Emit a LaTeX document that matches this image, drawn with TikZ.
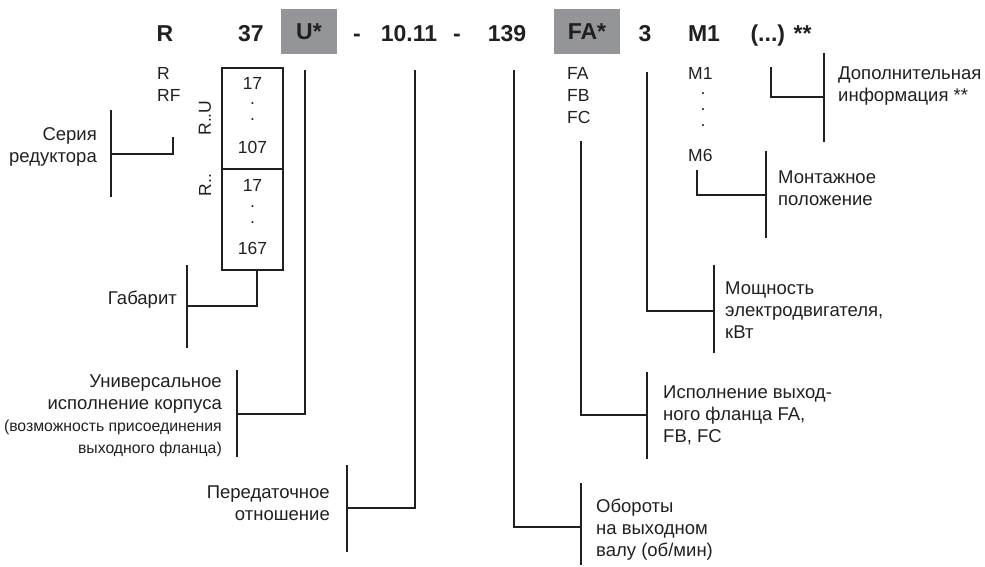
\documentclass[tikz,border=0pt]{standalone}
\usepackage{fontspec}
\setmainfont{Liberation Sans}
\definecolor{ink}{RGB}{35,31,32}
\definecolor{boxgray}{RGB}{147,149,152}
\begin{document}
\begin{tikzpicture}[x=1pt,y=-1pt,
  ln/.style={line width=2.4pt, draw=ink},
  thin/.style={line width=2pt, draw=ink},
  code/.style={font=\bfseries\fontsize{23}{27}\selectfont, text=ink, inner sep=0pt, anchor=base},
  graybox/.style={fill=boxgray, font=\bfseries\fontsize{23}{27}\selectfont, text=ink, inner sep=0pt},
  lbl/.style={font=\fontsize{17.5}{22}\selectfont, text=ink, inner sep=0pt},
  desc/.style={font=\fontsize{18.5}{22}\selectfont, text=ink, inner sep=0pt},
  lblr/.style={desc, anchor=east, align=right},
  lbll/.style={desc, anchor=west, align=left},
  small/.style={lbl, anchor=west},
  dots/.style={font=\fontsize{17.5}{16}\selectfont, text=ink, inner sep=0pt, align=center}
]
\useasboundingbox (0,0) rectangle (985,566);

% top code row
\node[code] (cR) at (165,41) {R};
\node[code] (c37) at (251,41) {37};
\node[graybox, minimum width=56pt, minimum height=45pt] (cU) at (309,31.5) {U*};
\node[code] (d1) at (357,41) {-};
\node[code] (c1011) at (409,41) {10.11};
\node[code] (d2) at (457,41) {-};
\node[code] (c139) at (507,41) {139};
\node[graybox, minimum width=66pt, minimum height=45pt] (cFA) at (587,31.5) {FA*};
\node[code] (c3) at (645,41) {3};
\node[code] (cM1) at (704,41) {M1};
\node[code] (cX) at (781,41) {(...) **};

% small option labels
\node[small] (oR) at (157,73) {R};
\node[small] (oRF) at (157,95) {RF};
\node[small] (oFA) at (567,73) {FA};
\node[small] (oFB) at (567,95) {FB};
\node[small] (oFC) at (567,117) {FC};
\node[small] (oM1) at (688,73) {M1};
\node[dots] (mdots) at (703,110) {.\\.\\.};
\node[small] (oM6) at (688,155) {M6};

% size box
\node[thin, draw, minimum width=61pt, minimum height=101pt, inner sep=0pt] (boxA) at (252.5,118.5) {};
\node[thin, draw, minimum width=61pt, minimum height=101pt, inner sep=0pt] (boxB) at (252.5,219.5) {};
\node[lbl] (a17) at (252.5,83) {17};
\node[dots] (adots) at (252.5,112) {.\\.};
\node[lbl] (a107) at (252.5,147) {107};
\node[lbl] (b17) at (252.5,185) {17};
\node[dots] (bdots) at (252.5,215) {.\\.};
\node[lbl] (b167) at (252.5,248) {167};
\node[lbl, rotate=90] (rU) at (205,118) {R..U};
\node[lbl, rotate=90] (rR) at (205,185) {R..};

% description labels
\node[lblr] (tSer) at (97,147) {Серия\\редуктора};
\node[lblr] (tGab) at (177,300) {Габарит};
\node[lblr] (tUni) at (222,415.5) {Универсальное\\исполнение корпуса\\{\fontsize{15.8}{22}\selectfont (возможность присоединения}\\{\fontsize{15.8}{22}\selectfont выходного фланца)}};
\node[lblr] (tPer) at (330,503.5) {Передаточное\\отношение};
\node[lbll] (tObo) at (596,530) {Обороты\\на выходном\\валу (об/мин)};
\node[lbll] (tIsp) at (663,415) {Исполнение выход-\\ного фланца FA,\\FB, FC};
\node[lbll] (tMos) at (725,310) {Мощность\\электродвигателя,\\кВт};
\node[lbll] (tMon) at (778,188) {Монтажное\\положение};
\node[lbll] (tDop) at (838,86) {Дополнительная\\информация **};

% bracket bars
\coordinate (bSerT) at (111,110); \coordinate (bSerB) at (111,197); \coordinate (bSer) at (111,154);
\coordinate (bGabT) at (187,265); \coordinate (bGabB) at (187,348); \coordinate (bGab) at (187,306);
\coordinate (bUniT) at (237,370); \coordinate (bUniB) at (237,457); \coordinate (bUni) at (237,414);
\coordinate (bPerT) at (347,465); \coordinate (bPerB) at (347,552); \coordinate (bPer) at (347,508);
\coordinate (bOboT) at (581,483); \coordinate (bOboB) at (581,565); \coordinate (bObo) at (581,527);
\coordinate (bIspT) at (647,372); \coordinate (bIspB) at (647,459); \coordinate (bIsp) at (647,415);
\coordinate (bMosT) at (714,265); \coordinate (bMosB) at (714,353); \coordinate (bMos) at (714,311);
\coordinate (bMonT) at (766,151); \coordinate (bMonB) at (766,238); \coordinate (bMon) at (766,195);
\coordinate (bDopT) at (824,53);  \coordinate (bDopB) at (824,142); \coordinate (bDop) at (824,97);
\foreach \b in {Ser,Gab,Uni,Per,Obo,Isp,Mos,Mon,Dop}{\draw[ln] (b\b T) -- (b\b B);}

% connector starts
\coordinate (sSer) at (173,137);
\coordinate (sGab) at (257,270);
\coordinate (sUni) at (305,70);
\coordinate (sPer) at (415,70);
\coordinate (sObo) at (514,70);
\coordinate (sIsp) at (581,141);
\coordinate (sMos) at (647,72);
\coordinate (sMon) at (697,170);
\coordinate (sDop) at (771,67);
\foreach \b in {Ser,Gab,Uni,Per,Obo,Isp,Mos,Mon,Dop}{\draw[ln] (s\b) |- (b\b);}
\end{tikzpicture}
\end{document}
